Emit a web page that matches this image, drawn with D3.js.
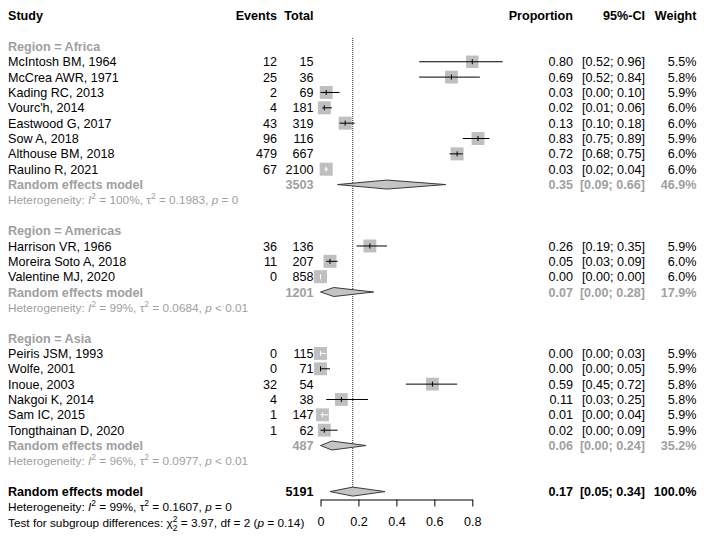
<!DOCTYPE html>
<html>
<head>
<meta charset="utf-8">
<script src="https://cdn.jsdelivr.net/npm/d3@7"></script>
<style>
body{margin:0;background:#fff;}
svg{display:block;font-family:"Liberation Sans",Arial,sans-serif;}
</style>
</head>
<body>
<svg id="chart" width="708" height="540"></svg>
<script>
// ---- data ----
const regions = ["Africa","Americas","Asia"];
const studies = ["McIntosh BM, 1964","McCrea AWR, 1971","Kading RC, 2013","Vourc'h, 2014","Eastwood G, 2017","Sow A, 2018","Althouse BM, 2018","Raulino R, 2021",
  "Harrison VR, 1966","Moreira Soto A, 2018","Valentine MJ, 2020",
  "Peiris JSM, 1993","Wolfe, 2001","Inoue, 2003","Nakgoi K, 2014","Sam IC, 2015","Tongthainan D, 2020"];
const studyRegion = ["Africa","Africa","Africa","Africa","Africa","Africa","Africa","Africa",
  "Americas","Americas","Americas","Asia","Asia","Asia","Asia","Asia","Asia"];
const events = [12,25,2,4,43,96,479,67, 36,11,0, 0,0,32,4,1,1];
const totals = [15,36,69,181,319,116,667,2100, 136,207,858, 115,71,54,38,147,62];
const proportions = [0.80,0.69,0.03,0.02,0.13,0.83,0.72,0.03, 0.26,0.05,0.00, 0.00,0.00,0.59,0.11,0.01,0.02];
const ciLow = [0.52,0.52,0.00,0.01,0.10,0.75,0.68,0.02, 0.19,0.03,0.00, 0.00,0.00,0.45,0.03,0.00,0.00];
const ciHigh = [0.96,0.84,0.10,0.06,0.18,0.89,0.75,0.04, 0.35,0.09,0.00, 0.03,0.05,0.72,0.25,0.04,0.09];
const weights = [5.5,5.8,5.9,6.0,6.0,5.9,6.0,6.0, 5.9,6.0,6.0, 5.9,5.9,5.8,5.8,5.9,5.9];

const subTotals = [3503,1201,487];
const subEst = [0.35,0.07,0.06];
const subLow = [0.09,0.00,0.00];
const subHigh = [0.66,0.28,0.24];
const subWeight = ["46.9%","17.9%","35.2%"];
const subI2 = ["100%","99%","96%"];
const subTau2 = ["0.1983","0.0684","0.0977"];
const subP = ["= 0","< 0.01","< 0.01"];

const overall = {total:5191, est:0.17, low:0.05, high:0.34, weight:"100.0%", i2:"99%", tau2:"0.1607", p:"= 0"};
const subgroupTest = {chi2:"3.97", df:"2", p:"0.14"};
const xTicks = [0,0.2,0.4,0.6,0.8];

// ---- layout ----
const svg = d3.select("#chart");
const FS = 12.6, FSH = 11.8;
const grey = "#a0a0a0";
const x = d3.scaleLinear().domain([0,0.8]).range([320.5,472.3]);
const y = d3.scaleLinear().domain([0,33]).range([15.7,522.3]);
const colStudy = 8, colEvents = 277, colTotal = 313.5, colProp = 573, colCI = 645, colW = 696.5;
const fmt2 = d3.format(".2f"), fmt1 = d3.format(".1f");

function txt(xp, row, s, opts={}){
  return svg.append("text").attr("x",xp).attr("y",y(row)).attr("dy","0.36em")
    .attr("font-size",opts.size||FS).attr("font-weight",opts.bold?"bold":null)
    .attr("fill",opts.color||"#000").attr("text-anchor",opts.anchor||"start").text(s);
}

// header
txt(colStudy,0,"Study",{bold:true});
txt(colEvents,0,"Events",{bold:true,anchor:"end"});
txt(colTotal,0,"Total",{bold:true,anchor:"end"});
txt(colProp,0,"Proportion",{bold:true,anchor:"end"});
txt(colCI,0,"95%-CI",{bold:true,anchor:"end"});
txt(colW,0,"Weight",{bold:true,anchor:"end"});

// reference line (overall estimate)
svg.append("line").attr("x1",x(overall.est)).attr("x2",x(overall.est))
  .attr("y1",38).attr("y2",y(31)).attr("stroke","#222").attr("stroke-width",1)
  .attr("stroke-dasharray","1,1");

function hetText(row, i2, tau2, p, color){
  const t = svg.append("text").attr("x",colStudy).attr("y",y(row)).attr("dy","0.36em")
    .attr("font-size",FSH).attr("fill",color);
  t.append("tspan").text("Heterogeneity: ");
  t.append("tspan").attr("font-style","italic").text("I");
  t.append("tspan").attr("font-size",8.5).attr("dy",-5).text("2");
  t.append("tspan").attr("dy",5).text(" = " + i2 + ", \u03c4");
  t.append("tspan").attr("font-size",8.5).attr("dy",-5).text("2");
  t.append("tspan").attr("dy",5).text(" = " + tau2 + ", ");
  t.append("tspan").attr("font-style","italic").text("p");
  t.append("tspan").text(" " + p);
}

function diamond(row, est, lo, hi){
  const yc = y(row), h = 4.5;
  svg.append("path").attr("d",`M${x(lo)},${yc}L${x(est)},${yc-h}L${x(hi)},${yc}L${x(est)},${yc+h}Z`)
    .attr("fill","#c4c4c4").attr("stroke","#3a3a3a").attr("stroke-width",1);
}

let row = 2;
regions.forEach((reg, gi) => {
  txt(colStudy,row,"Region = " + reg,{bold:true,color:grey});
  row++;
  studies.forEach((s,i) => {
    if(studyRegion[i] !== reg) return;
    txt(colStudy,row,s);
    txt(colEvents,row,events[i],{anchor:"end"});
    txt(colTotal,row,totals[i],{anchor:"end"});
    txt(colProp,row,fmt2(proportions[i]),{anchor:"end"});
    txt(colCI,row,`[${fmt2(ciLow[i])}; ${fmt2(ciHigh[i])}]`,{anchor:"end"});
    txt(colW,row,fmt1(weights[i])+"%",{anchor:"end"});
    const yc = y(row);
    const side = 13*Math.sqrt(weights[i]/6);
    const cx = x(proportions[i]);
    svg.append("rect").attr("x",cx-side/2).attr("y",yc-side/2).attr("width",side).attr("height",side)
      .attr("fill","#bfbfbf");
    // CI drawn white when it is narrow compared with the box
    const inside = (x(ciHigh[i]) - x(ciLow[i])) < side*0.65;
    const col = inside ? "#fff" : "#000";
    svg.append("line").attr("x1",x(ciLow[i])).attr("x2",x(ciHigh[i])).attr("y1",yc).attr("y2",yc)
      .attr("stroke",col).attr("stroke-width",1);
    svg.append("line").attr("x1",cx).attr("x2",cx).attr("y1",yc-2.5).attr("y2",yc+2.5)
      .attr("stroke",col).attr("stroke-width",1);
    row++;
  });
  txt(colStudy,row,"Random effects model",{bold:true,color:grey});
  txt(colTotal,row,subTotals[gi],{bold:true,color:grey,anchor:"end"});
  txt(colProp,row,fmt2(subEst[gi]),{bold:true,color:grey,anchor:"end"});
  txt(colCI,row,`[${fmt2(subLow[gi])}; ${fmt2(subHigh[gi])}]`,{bold:true,color:grey,anchor:"end"});
  txt(colW,row,subWeight[gi],{bold:true,color:grey,anchor:"end"});
  diamond(row, subEst[gi], subLow[gi], subHigh[gi]);
  row++;
  hetText(row, subI2[gi], subTau2[gi], subP[gi], grey);
  row += 2;
});

// overall
txt(colStudy,row,"Random effects model",{bold:true});
txt(colTotal,row,overall.total,{bold:true,anchor:"end"});
txt(colProp,row,fmt2(overall.est),{bold:true,anchor:"end"});
txt(colCI,row,`[${fmt2(overall.low)}; ${fmt2(overall.high)}]`,{bold:true,anchor:"end"});
txt(colW,row,overall.weight,{bold:true,anchor:"end"});
diamond(row, overall.est, overall.low, overall.high);
row++;
hetText(row, overall.i2, overall.tau2, overall.p, "#000");
row++;
{
  const t = svg.append("text").attr("x",colStudy).attr("y",y(row)).attr("dy","0.36em")
    .attr("font-size",FSH).attr("fill","#000");
  t.append("tspan").text("Test for subgroup differences: \u03c7");
  t.append("tspan").attr("font-size",8.5).attr("dy",-5).text("2");
  t.append("tspan").attr("font-size",8.5).attr("dx",-4.7).attr("dy",9).text("2");
  t.append("tspan").attr("dy",-4).text(" = " + subgroupTest.chi2 + ", df = " + subgroupTest.df + " (");
  t.append("tspan").attr("font-style","italic").text("p");
  t.append("tspan").text(" = " + subgroupTest.p + ")");
}

// axis
const axis = d3.axisBottom(x).tickValues(xTicks).tickFormat(d=>d===0?"0":d3.format(".1f")(d))
  .tickSize(7).tickSizeOuter(0).tickPadding(11);
const g = svg.append("g").attr("transform","translate(0,499.5)").call(axis);
g.select(".domain").attr("stroke","#000");
g.selectAll(".tick line").attr("stroke","#000");
g.selectAll(".tick text").attr("font-size",FS).attr("fill","#000")
  .attr("font-family","Liberation Sans, Arial, sans-serif");
</script>
</body>
</html>
